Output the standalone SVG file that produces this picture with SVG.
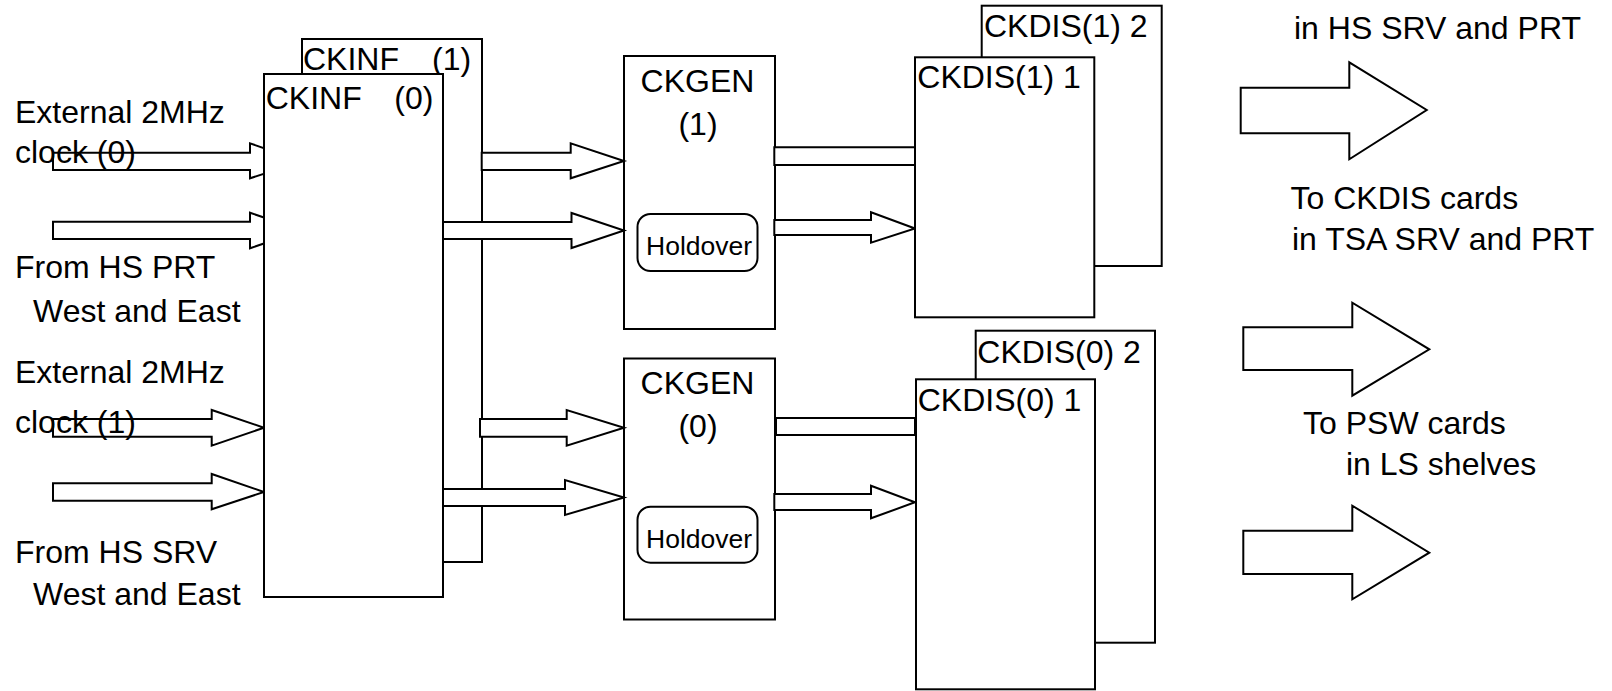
<svg xmlns="http://www.w3.org/2000/svg" width="1612" height="691" viewBox="0 0 1612 691">
<style>
.box{fill:#fff;stroke:#000;stroke-width:2}
.arr{fill:#fff;stroke:#000;stroke-width:2;stroke-linejoin:miter}
.t{font-family:"Liberation Sans",Arial,sans-serif;font-size:32px;fill:#000}
.h{font-family:"Liberation Sans",Arial,sans-serif;font-size:26.5px;fill:#000}
</style>
<rect width="1612" height="691" fill="#fff"/>
<g id="ckinf1">
<rect class="box" x="302" y="39" width="180" height="523"/>
<text class="t" y="70"><tspan x="303">CKINF</tspan><tspan x="432">(1)</tspan></text>
</g>
<g id="ckgen1">
<rect class="box" x="624" y="56" width="151" height="273"/>
<text class="t" x="697.5" y="91.7" text-anchor="middle">CKGEN</text>
<text class="t" x="698" y="135" text-anchor="middle">(1)</text>
<rect class="box" x="637.5" y="214" width="120" height="57" rx="13"/>
<text class="h" x="646" y="255">Holdover</text>
</g>
<g id="ckgen0">
<rect class="box" x="624" y="358.5" width="151" height="261"/>
<text class="t" x="697.5" y="394" text-anchor="middle">CKGEN</text>
<text class="t" x="698" y="437.3" text-anchor="middle">(0)</text>
<rect class="box" x="637.5" y="506.7" width="120" height="56" rx="13"/>
<text class="h" x="646" y="547.7">Holdover</text>
</g>
<g id="connectors">
<polygon class="arr" points="53,152.7 250,152.7 250,143.3 302,161.5 250,178.3 250,170 53,170"/>
<polygon class="arr" points="53,221.7 250,221.7 250,212.7 302,230.5 250,248.3 250,239 53,239"/>
<polygon class="arr" points="53,419 211.7,419 211.7,410 264,427.7 211.7,445.7 211.7,436.7 53,436.7"/>
<polygon class="arr" points="53,483.3 211.7,483.3 211.7,474 264,492 211.7,509.3 211.7,500.7 53,500.7"/>
<polygon class="arr" points="481.7,152.7 570.7,152.7 570.7,143.3 624,161 570.7,178.3 570.7,170 481.7,170"/>
<polygon class="arr" points="443,222 571.5,222 571.5,213 624,230.5 571.5,248 571.5,239 443,239"/>
<polygon class="arr" points="480,419 566.7,419 566.7,410 624,427.7 566.7,445.7 566.7,436.7 480,436.7"/>
<polygon class="arr" points="443,489 565,489 565,480 624,497.5 565,515 565,506 443,506"/>
<polygon class="arr" points="774.3,147.3 915,147.3 915,165 774.3,165"/>
<polygon class="arr" points="774.3,220 871,220 871,212.3 915,228.5 871,242.7 871,235 774.3,235"/>
<polygon class="arr" points="776,418 915,418 915,435 776,435"/>
<polygon class="arr" points="774.3,494 871,494 871,485.7 915,502.3 871,518.3 871,510 774.3,510"/>
<polygon class="arr" points="1240.7,87.7 1349.3,87.7 1349.3,62.3 1426.7,110 1349.3,159.3 1349.3,133.3 1240.7,133.3"/>
<polygon class="arr" points="1243.3,327.3 1352.3,327.3 1352.3,302.7 1429.3,349.3 1352.3,395.7 1352.3,370 1243.3,370"/>
<polygon class="arr" points="1243.3,530.7 1352.3,530.7 1352.3,505.7 1429.3,552.7 1352.3,599.3 1352.3,574 1243.3,574"/>
</g>
<g id="ckinf0">
<rect class="box" x="264" y="74" width="179" height="523"/>
<text class="t" y="109.3"><tspan x="265.7">CKINF</tspan><tspan x="394.3">(0)</tspan></text>
</g>
<g id="ckdis1-2">
<rect class="box" x="981.7" y="5.7" width="180" height="260.3"/>
<text class="t" x="984" y="37.3">CKDIS(1) 2</text>
</g>
<g id="ckdis1-1">
<rect class="box" x="915" y="57.3" width="179.3" height="260"/>
<text class="t" x="917.3" y="88.3">CKDIS(1) 1</text>
</g>
<g id="ckdis0-2">
<rect class="box" x="975.7" y="330.7" width="179.3" height="312"/>
<text class="t" x="977.3" y="362.7">CKDIS(0) 2</text>
</g>
<g id="ckdis0-1">
<rect class="box" x="916" y="379.3" width="179" height="310"/>
<text class="t" x="917.7" y="410.7">CKDIS(0) 1</text>
</g>
<g id="labels">
<text class="t" x="15" y="122.7">External 2MHz</text>
<text class="t" x="15" y="163.3">clock (0)</text>
<text class="t" x="15" y="278">From HS PRT</text>
<text class="t" x="33" y="321.7">West and East</text>
<text class="t" x="15" y="383.3">External 2MHz</text>
<text class="t" x="15" y="433">clock (1)</text>
<text class="t" x="15" y="563">From HS SRV</text>
<text class="t" x="33" y="605">West and East</text>
<text class="t" x="1294" y="39">in HS SRV and PRT</text>
<text class="t" x="1290.5" y="209">To CKDIS cards</text>
<text class="t" x="1292" y="250">in TSA SRV and PRT</text>
<text class="t" x="1303" y="434">To PSW cards</text>
<text class="t" x="1346" y="475">in LS shelves</text>
</g>
</svg>
